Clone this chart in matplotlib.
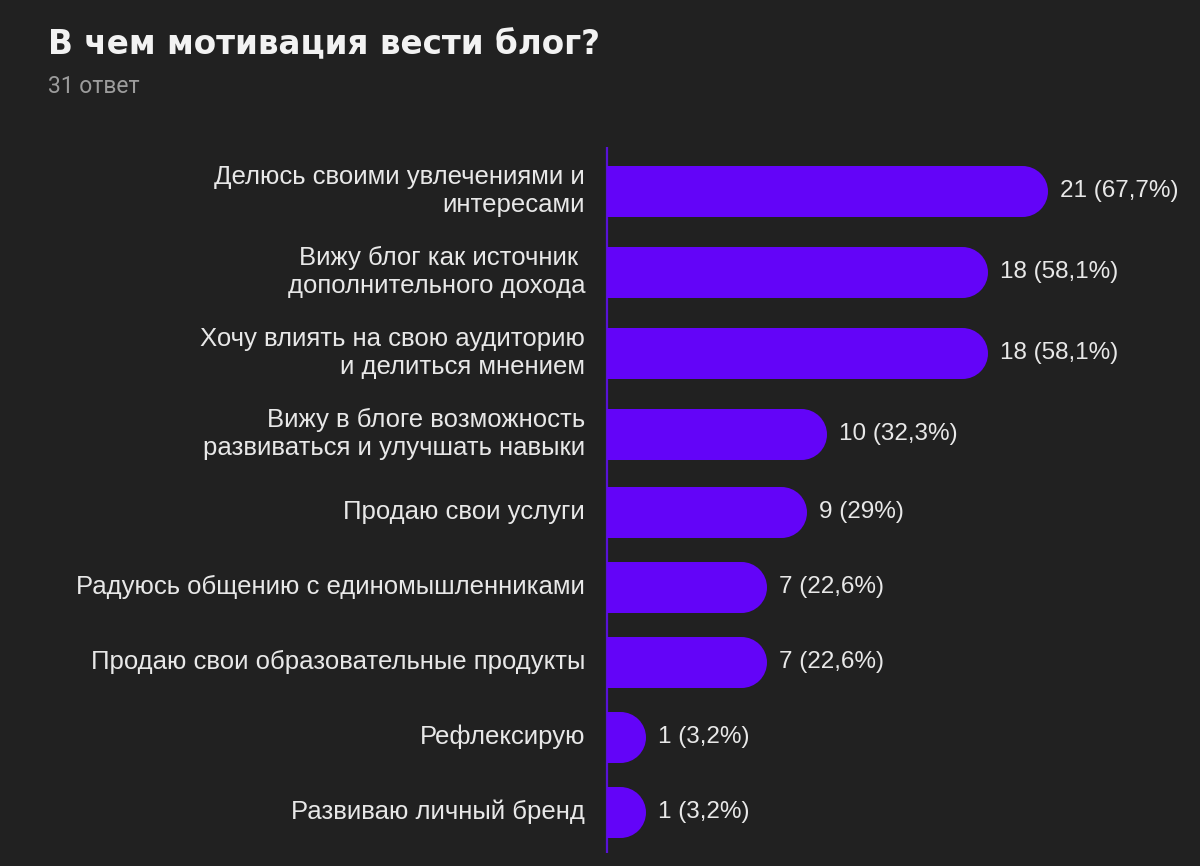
import numpy as np
import matplotlib
matplotlib.use("Agg")
from matplotlib import pyplot as plt

title = "В чем мотивация вести блог?"
subtitle = "31 ответ"
categories = [
    "Делюсь своими увлечениями и\nинтересами",
    "Вижу блог как источник \nдополнительного дохода",
    "Хочу влиять на свою аудиторию\nи делиться мнением",
    "Вижу в блоге возможность\nразвиваться и улучшать навыки",
    "Продаю свои услуги",
    "Радуюсь общению с единомышленниками",
    "Продаю свои образовательные продукты",
    "Рефлексирую",
    "Развиваю личный бренд",
]
counts = [21, 18, 18, 10, 9, 7, 7, 1, 1]
value_labels = ["21 (67,7%)", "18 (58,1%)", "18 (58,1%)", "10 (32,3%)", "9 (29%)",
                "7 (22,6%)", "7 (22,6%)", "1 (3,2%)", "1 (3,2%)"]

BG = "#212121"
BAR = "#6304f8"
AXLINE = "#5712d6"
TXT = "#e8e8e8"

W, H, DPI = 1200, 866, 100
PX_PER_UNIT = 20.1          # horizontal scale of the bars
BAR_H = 51                  # bar thickness in px
EXTRA = 0.92                # rounded cap overhang, in value units

fig = plt.figure(figsize=(W / DPI, H / DPI), dpi=DPI, facecolor=BG)
ax_left = 607 / W
ax = fig.add_axes([ax_left, 0, 1 - ax_left, 1])
ax.set_facecolor(BG)
ax.set_xlim(0, (W - 607) / PX_PER_UNIT)
ax.set_ylim(H, 0)  # y in pixel rows from the top
ax.axis("off")

# vertical layout: two-line labels get taller slots
slots = np.array([81 if "\n" in c else 75 for c in categories], dtype=float)
centers = 191 + np.concatenate([[0], np.cumsum((slots[:-1] + slots[1:]) / 2)])

r_units = (BAR_H / 2) / PX_PER_UNIT
marker_pts = BAR_H * 72 / DPI
for y, v, lab, vl in zip(centers, counts, categories, value_labels):
    rect_end = v + EXTRA - r_units
    ax.barh(y, rect_end, height=BAR_H, color=BAR, linewidth=0, zorder=3)
    ax.plot([rect_end], [y], marker="o", markersize=marker_pts, color=BAR,
            markeredgewidth=0, zorder=3)
    ax.text(-22 / PX_PER_UNIT, y, lab, ha="right", va="center", ma="right",
            color=TXT, fontsize=18.5, family="Liberation Sans", linespacing=1.2,
            clip_on=False)
    ax.text(v + EXTRA + 0.62, y, vl, ha="left", va="center", color=TXT,
            fontsize=17.5, family="Liberation Sans", clip_on=False)

ax.vlines(0, 147, 853, color=AXLINE, linewidth=1.6, zorder=2, clip_on=False)

fig.text(48 / W, 1 - 54 / H, title, ha="left", va="baseline", color="#f2f2f2",
         fontsize=23.5, family="DejaVu Sans", fontweight="bold")
fig.text(48 / W, 1 - 93 / H, subtitle, ha="left", va="baseline", color="#9c9c9c",
         fontsize=16.5, family="Roboto")

fig.savefig("out.png", dpi=DPI, facecolor=BG)
